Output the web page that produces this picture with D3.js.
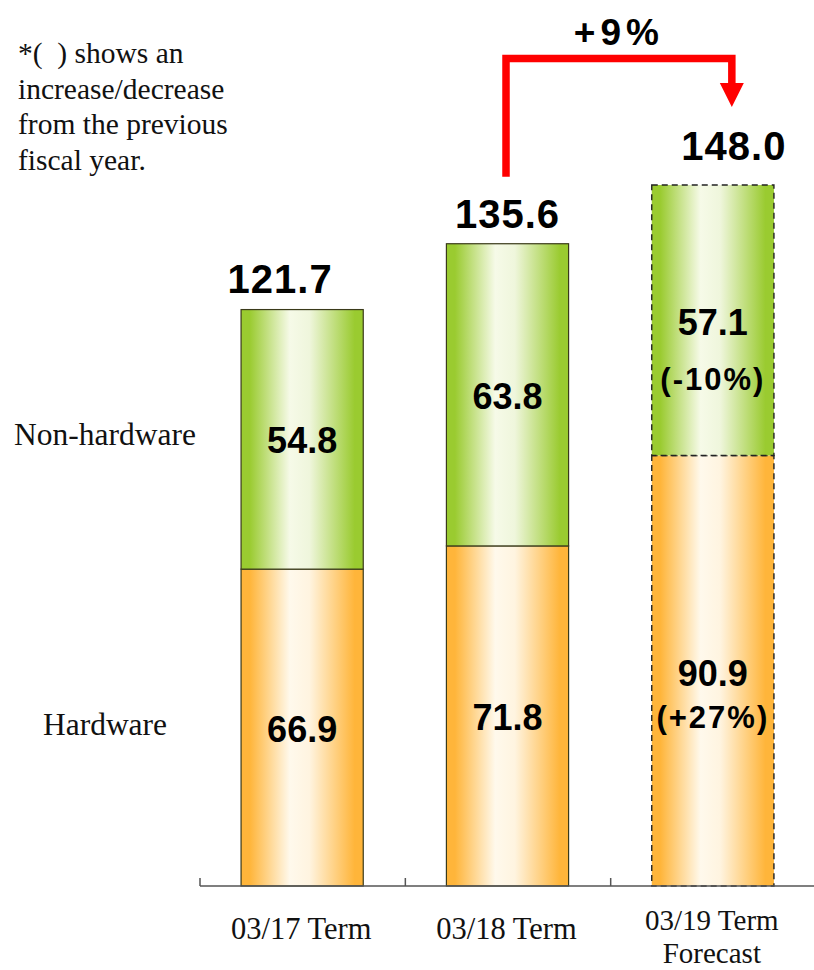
<!DOCTYPE html>
<html>
<head>
<meta charset="utf-8">
<script src="https://cdn.jsdelivr.net/npm/d3@7"></script>
<style>
  html, body { margin: 0; padding: 0; background: #fff; }
  svg { display: block; }
</style>
</head>
<body>
<svg id="chart" width="814" height="970"></svg>
<script>
// ---- data ----
const categories = ["03/17 Term", "03/18 Term", "03/19 Term"];
const categoryLines = [["03/17 Term"], ["03/18 Term"], ["03/19 Term", "Forecast"]];
const hardware = [66.9, 71.8, 90.9];
const nonHardware = [54.8, 63.8, 57.1];
const forecast = [false, false, true];
const hardwareChange = ["", "", "(+27%)"];
const nonHardwareChange = ["", "", "(-10%)"];
const seriesNames = ["Hardware", "Non-hardware"];
const seriesLabels = ["Hardware", "Non-hardware"];
const totalGrowth = "+9%";
const noteLines = ["*(\u00A0\u00A0) shows an", "increase/decrease", "from the previous", "fiscal year."];

// ---- layout ----
const svg = d3.select("#chart");
const baseY = 886;
const axisLeft = 200, axisRight = 815;
const numFont = "'Liberation Sans', Arial, sans-serif";
const serifFont = "'Liberation Serif', 'Times New Roman', serif";

const rows = categories.map((c, i) => ({
  cat: c, Hardware: hardware[i], "Non-hardware": nonHardware[i], i
}));
const stacked = d3.stack().keys(seriesNames)(rows);
const totals = rows.map(r => +(r.Hardware + r["Non-hardware"]).toFixed(1));

const x = d3.scaleBand().domain(categories).range([axisLeft, axisRight])
  .paddingInner(0.405).paddingOuter(0.2);
const y = d3.scaleLinear().domain([0, 148]).range([baseY, 185]);

// ---- gradients ----
const defs = svg.append("defs");
function gradient(id, edge, light, light2) {
  const g = defs.append("linearGradient").attr("id", id)
    .attr("x1", "0%").attr("x2", "100%").attr("y1", "0%").attr("y2", "0%");
  [[0, edge], [0.07, edge], [0.4, light], [0.56, light2], [0.93, edge], [1, edge]].forEach(([o, c]) =>
    g.append("stop").attr("offset", o).attr("stop-color", c));
}
gradient("gHardware", "#FFB53A", "#FFF9EC", "#FFF4E0");
gradient("gNonHardware", "#9ACB30", "#F6FAE8", "#EFF6DC");
const fills = { "Hardware": "url(#gHardware)", "Non-hardware": "url(#gNonHardware)" };

// ---- bars ----
stacked.forEach(layer => {
  svg.append("g").selectAll("rect").data(layer).join("rect")
    .attr("x", d => x(d.data.cat))
    .attr("width", x.bandwidth())
    .attr("y", d => y(d[1]))
    .attr("height", d => y(d[0]) - y(d[1]))
    .attr("fill", fills[layer.key])
    .attr("stroke", d => forecast[d.data.i] ? "#222" : "#3a3a1a")
    .attr("stroke-width", d => forecast[d.data.i] ? 1.4 : 1.2)
    .attr("stroke-dasharray", d => forecast[d.data.i] ? "6,4" : null);
});

// ---- axis ----
const axisG = svg.append("g").attr("stroke", "#555").attr("stroke-width", 1.5);
axisG.append("line").attr("x1", axisLeft).attr("x2", 814).attr("y1", baseY).attr("y2", baseY);
categories.forEach(c => {
  const tx = x(c) - x.step() * x.paddingOuter();
  axisG.append("line").attr("x1", tx).attr("x2", tx).attr("y1", baseY - 8).attr("y2", baseY);
});

// category labels
categoryLines.forEach((lines, i) => {
  const cx = x(categories[i]) + x.bandwidth() / 2;
  const multi = lines.length > 1;
  lines.forEach((t, k) => {
    svg.append("text").attr("x", cx - 1).attr("y", (multi ? 930 : 939) + k * 33)
      .attr("text-anchor", "middle").attr("font-family", serifFont).attr("font-size", multi ? 29 : 30.5)
      .attr("fill", "#111").text(t);
  });
});

// ---- segment value labels ----
const changeBy = { "Hardware": hardwareChange, "Non-hardware": nonHardwareChange };
stacked.forEach(layer => {
  layer.forEach(d => {
    const i = d.data.i;
    const cx = x(d.data.cat) + x.bandwidth() / 2;
    const mid = (y(d[0]) + y(d[1])) / 2;
    const change = changeBy[layer.key][i];
    const firstBase = change ? mid + 15 : mid + 14;
    svg.append("text").attr("x", cx).attr("y", firstBase)
      .attr("text-anchor", "middle").attr("font-family", numFont)
      .attr("font-weight", "bold").attr("font-size", 36).attr("fill", "#000")
      .text(d.data[layer.key].toFixed(1));
    if (change) {
      svg.append("text").attr("x", cx).attr("y", firstBase + (layer.key === "Hardware" ? 42 : 55))
        .attr("text-anchor", "middle").attr("font-family", numFont)
        .attr("font-weight", "bold").attr("font-size", 31).attr("letter-spacing", 2)
        .attr("fill", "#000").text(change);
    }
  });
});

// ---- total labels ----
const totalNudge = [[-22, -17], [0, -16], [21, -25]];
totals.forEach((t, i) => {
  const cx = x(categories[i]) + x.bandwidth() / 2;
  svg.append("text").attr("x", cx + totalNudge[i][0]).attr("y", y(t) + totalNudge[i][1])
    .attr("text-anchor", "middle").attr("font-family", numFont)
    .attr("font-weight", "bold").attr("font-size", 40).attr("letter-spacing", 1)
    .attr("fill", "#000").text(t.toFixed(1));
});

// ---- growth arrow between last two totals ----
const fromX = x(categories[1]) + x.bandwidth() / 2 - 1.5;
const toX = x(categories[2]) + x.bandwidth() / 2 + 19;
const fromY = y(totals[1]) - 67;
const topY = 58.5;
const tipY = y(totals[2]) - 78;
svg.append("path")
  .attr("d", d3.line()([[fromX, fromY], [fromX, topY], [toX, topY], [toX, tipY - 22]]))
  .attr("fill", "none").attr("stroke", "#FF0000").attr("stroke-width", 7.5)
  .attr("stroke-linejoin", "miter");
svg.append("path")
  .attr("d", d3.line()([[toX - 12, tipY - 24], [toX + 12, tipY - 24], [toX, tipY]]) + "Z")
  .attr("fill", "#FF0000");
svg.append("text").attr("x", (fromX + toX) / 2).attr("y", 45)
  .attr("text-anchor", "middle").attr("font-family", numFont)
  .attr("font-weight", "bold").attr("font-size", 37).attr("letter-spacing", 5)
  .attr("fill", "#000").text(totalGrowth);

// ---- series labels beside the first bar ----
stacked.forEach((layer, s) => {
  const d = layer[0];
  const mid = (y(d[0]) + y(d[1])) / 2;
  svg.append("text").attr("x", 105).attr("y", mid + (s === 0 ? 7 : 6))
    .attr("text-anchor", "middle").attr("font-family", serifFont).attr("font-size", 31.5)
    .attr("fill", "#111").text(seriesLabels[s]);
});

// ---- note ----
svg.append("text").attr("font-family", serifFont).attr("font-size", 29.5).attr("fill", "#111")
  .selectAll("tspan").data(noteLines).join("tspan")
  .attr("x", 18).attr("y", (d, k) => 63 + k * 35.5)
  .style("white-space", "pre").text(d => d);
</script>
</body>
</html>
